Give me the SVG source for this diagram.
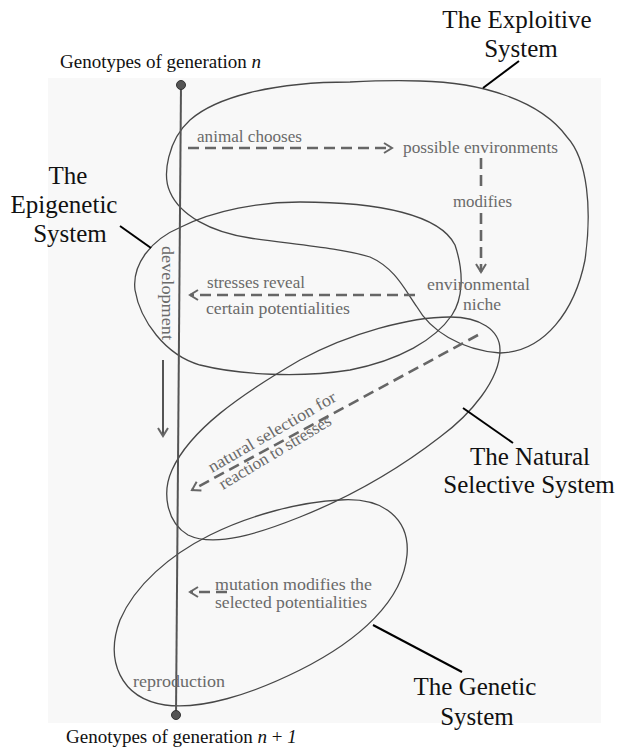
<svg xmlns="http://www.w3.org/2000/svg" width="621" height="750" viewBox="0 0 621 750">
<defs>
<style>
.blob{fill:none;stroke:#474747;stroke-width:1.3}
.lbl{font-family:'Liberation Serif','DejaVu Serif',serif;font-size:25px;fill:#111}
.gen{font-family:'Liberation Serif','DejaVu Serif',serif;font-size:19px;fill:#111}
.note{font-family:'Liberation Serif','DejaVu Serif',serif;font-size:17px;fill:#6a6a6a}
.dash{fill:none;stroke:#666;stroke-width:2.6;stroke-dasharray:11 6}
.leader{stroke:#000;stroke-width:2;fill:none}
</style>
<marker id="ah" viewBox="0 0 12 12" refX="10" refY="6" markerWidth="12" markerHeight="12" markerUnits="userSpaceOnUse" orient="auto">
<path d="M2,1 L10,6 L2,11" fill="none" stroke="#666" stroke-width="2"/>
</marker>
</defs>
<rect x="48" y="78" width="553" height="645" fill="#f8f8f8"/>

<g id="exploitive-system">
<path class="blob" d="M350,82 C270,82 215,98 190,120 C168,140 162,175 170,192 C180,215 210,232 250,238 C300,245 340,248 370,257 C395,268 405,290 417,307 C430,330 460,350 500,353 C545,352 575,310 585,260 C592,210 588,160 567,137 C540,100 480,82 420,81 C390,80 370,81 350,82 Z"/>
<line class="leader" x1="483" y1="88" x2="519" y2="61"/>
<text class="lbl" x="517" y="28" text-anchor="middle">The Exploitive</text>
<text class="lbl" x="521" y="57" text-anchor="middle">System</text>
</g>

<g id="epigenetic-system">
<path class="blob" d="M181,227 C215,210 260,202 300,202 C380,202 440,215 455,245 C465,275 462,300 452,315 C435,340 400,360 350,370 C300,378 240,375 200,365 C165,355 140,320 135,290 C132,265 150,240 181,227 Z"/>
<line class="leader" x1="151" y1="248" x2="120" y2="226"/>
<text class="lbl" x="68" y="184" text-anchor="middle">The</text>
<text class="lbl" x="64" y="213" text-anchor="middle">Epigenetic</text>
<text class="lbl" x="70" y="242" text-anchor="middle">System</text>
</g>

<g id="natural-selective-system">
<path class="blob" d="M450,317 C480,317 500,330 500,350 C500,380 470,415 440,437 C400,468 350,497 300,517 C260,533 215,548 188,535 C166,522 162,492 172,470 C190,430 240,395 300,360 C350,333 410,317 450,317 Z"/>
<line class="leader" x1="463" y1="408" x2="513" y2="443"/>
<text class="lbl" x="530" y="465" text-anchor="middle">The Natural</text>
<text class="lbl" x="529" y="493" text-anchor="middle">Selective System</text>
</g>

<g id="genetic-system">
<path class="blob" d="M340,500 C385,497 410,520 407,555 C403,600 360,640 300,670 C250,695 200,710 165,705 C120,698 105,660 120,620 C135,585 170,555 210,535 C250,515 300,502 340,500 Z"/>
<line class="leader" x1="373" y1="625" x2="462" y2="672"/>
<text class="lbl" x="475" y="695" text-anchor="middle">The Genetic</text>
<text class="lbl" x="477" y="725" text-anchor="middle">System</text>
</g>

<g id="generation-line">
<line x1="181" y1="85" x2="176" y2="715" stroke="#555" stroke-width="2"/>
<circle cx="181" cy="85" r="4.5" fill="#555" stroke="#333" stroke-width="1"/>
<circle cx="176" cy="715" r="4.5" fill="#555" stroke="#333" stroke-width="1"/>
<text class="gen" x="60" y="68">Genotypes of generation <tspan font-style="italic">n</tspan></text>
<text class="gen" x="66" y="743">Genotypes of generation <tspan font-style="italic">n</tspan> + <tspan font-style="italic">1</tspan></text>
<text class="note" transform="translate(162,246) rotate(90)" textLength="94" lengthAdjust="spacingAndGlyphs">development</text>
<text class="note" x="133" y="687" textLength="92" lengthAdjust="spacingAndGlyphs">reproduction</text>
</g>

<g id="connectors">
<line class="dash" x1="188" y1="148" x2="392" y2="148" marker-end="url(#ah)"/>
<line class="dash" x1="481" y1="158" x2="481" y2="192"/>
<line class="dash" x1="481" y1="213" x2="481" y2="272" marker-end="url(#ah)"/>
<line class="dash" x1="415" y1="295" x2="190" y2="295" marker-end="url(#ah)"/>
<line x1="163" y1="360" x2="163" y2="436" stroke="#555" stroke-width="2" marker-end="url(#ah)"/>
<line class="dash" x1="478" y1="335" x2="192" y2="490" marker-end="url(#ah)"/>
<line class="dash" x1="227" y1="592" x2="190" y2="592" stroke-dasharray="12 5" marker-end="url(#ah)"/>
</g>

<g id="notes">
<text class="note" x="197" y="142" textLength="105" lengthAdjust="spacingAndGlyphs">animal chooses</text>
<text class="note" x="403" y="153" textLength="155" lengthAdjust="spacingAndGlyphs">possible environments</text>
<text class="note" x="453" y="207" textLength="59" lengthAdjust="spacingAndGlyphs">modifies</text>
<text class="note" x="427" y="290" textLength="103" lengthAdjust="spacingAndGlyphs">environmental</text>
<text class="note" x="463" y="310" textLength="38" lengthAdjust="spacingAndGlyphs">niche</text>
<text class="note" x="207" y="288" textLength="98" lengthAdjust="spacingAndGlyphs">stresses reveal</text>
<text class="note" x="206" y="314" textLength="144" lengthAdjust="spacingAndGlyphs">certain potentialities</text>
<text class="note" transform="translate(212,473) rotate(-30)" textLength="145" lengthAdjust="spacingAndGlyphs">natural selection for</text>
<text class="note" transform="translate(223,490) rotate(-31)" textLength="128" lengthAdjust="spacingAndGlyphs">reaction to stresses</text>
<text class="note" x="215" y="590" textLength="157" lengthAdjust="spacingAndGlyphs">mutation modifies the</text>
<text class="note" x="215" y="608" textLength="152" lengthAdjust="spacingAndGlyphs">selected potentialities</text>
</g>
</svg>
